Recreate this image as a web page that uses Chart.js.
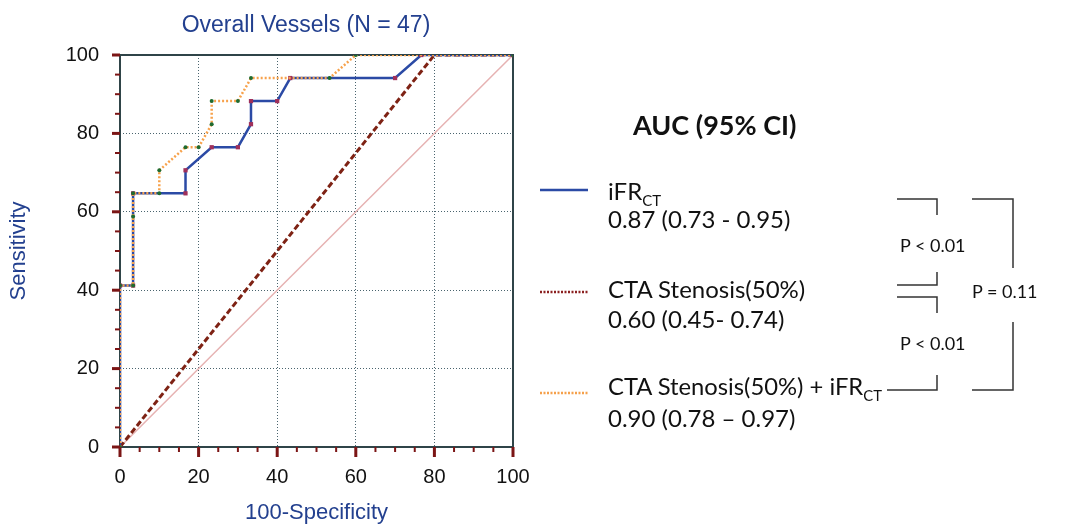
<!DOCTYPE html>
<html>
<head>
<meta charset="utf-8">
<script src="https://cdn.jsdelivr.net/npm/chart.js@4.4.0/dist/chart.umd.min.js"></script>
<style>
  body { margin: 0; background: #fff; }
  #wrap { position: relative; width: 1082px; height: 528px; }
  #roc { position: absolute; left: 0; top: 0; }
  #side { position: absolute; left: 0; top: 0; }
  #side text { font-family: Lato, "Open Sans", sans-serif; fill: #111; }
</style>
</head>
<body>
<div id="wrap">
  <canvas id="roc" width="1082" height="528"></canvas>
  <svg id="side" width="1082" height="528">
    <text x="306" y="32" text-anchor="middle" style="font-family:'Liberation Sans',Arial,sans-serif;font-size:23px;fill:#23408f">Overall Vessels (N = 47)</text>

    <text x="633" y="135" style="font-size:27px;font-weight:bold">AUC (95% CI)</text>

    <line x1="540" y1="190" x2="588" y2="190" stroke="#2b4aa5" stroke-width="2.5"/>
    <text x="608" y="200" style="font-size:24px">iFR<tspan dy="6" style="font-size:15px">CT</tspan></text>
    <text x="608" y="228" style="font-size:24px">0.87 (0.73 - 0.95)</text>

    <line x1="540" y1="292" x2="588" y2="292" stroke="#8b2020" stroke-width="2.5" stroke-dasharray="2,1.5"/>
    <text x="608" y="298" style="font-size:24px">CTA Stenosis(50%)</text>
    <text x="608" y="328" style="font-size:24px">0.60 (0.45- 0.74)</text>

    <line x1="540" y1="393" x2="588" y2="393" stroke="#f5a04a" stroke-width="2.5" stroke-dasharray="2,1.5"/>
    <text x="608" y="395" style="font-size:24px" textLength="274" lengthAdjust="spacingAndGlyphs">CTA Stenosis(50%) + iFR<tspan dy="6" style="font-size:15px">CT</tspan></text>
    <text x="608" y="427" style="font-size:24px">0.90 (0.78 – 0.97)</text>

    <g stroke="#333" stroke-width="1.5" fill="none">
      <polyline points="897,199 937,199 937,215"/>
      <polyline points="937,272 937,285 897,285"/>
      <polyline points="897,297 937,297 937,313"/>
      <polyline points="937,375 937,390 887,390"/>
      <polyline points="972,199 1013,199 1013,268"/>
      <polyline points="1013,322 1013,390 972,390"/>
    </g>
    <text x="900" y="252" style="font-size:18px">P &lt; 0.01</text>
    <text x="900" y="350" style="font-size:18px">P &lt; 0.01</text>
    <text x="972" y="298" style="font-size:18px">P = 0.11</text>
  </svg>
</div>
<script>
// ROC curves, x = 100-Specificity, y = Sensitivity
const fprIfr   = [0, 0, 3.33, 3.33, 16.67, 16.67, 23.33, 30, 33.33, 33.33, 40, 43.33, 70, 76.67, 100];
const sensIfr  = [0, 41.18, 41.18, 64.71, 64.71, 70.59, 76.47, 76.47, 82.35, 88.24, 88.24, 94.12, 94.12, 100, 100];

const fprCta   = [0, 80, 100];
const sensCta  = [0, 100, 100];

const fprCombo  = [0, 0, 3.33, 3.33, 3.33, 10, 10, 16.67, 20, 23.33, 23.33, 30, 33.33, 53.33, 60, 100];
const sensCombo = [0, 41.18, 41.18, 58.82, 64.71, 64.71, 70.59, 76.47, 76.47, 82.35, 88.24, 88.24, 94.12, 94.12, 100, 100];

const fprRef  = [0, 100];
const sensRef = [0, 100];

const axisTicks = [0, 20, 40, 60, 80, 100];

const pts = (xs, ys) => xs.map((x, i) => ({ x: x, y: ys[i] }));

// frame + minor/major tick marks
const framePlugin = {
  id: "frame",
  beforeDatasetsDraw(chart) {
    const a = chart.chartArea, c = chart.ctx;
    c.save();
    c.strokeStyle = "#2f4448";
    c.lineWidth = 2;
    c.strokeRect(a.left, a.top, a.right - a.left, a.bottom - a.top);
    c.restore();
  },
  afterDraw(chart) {
    const c = chart.ctx, xs = chart.scales.x, ys = chart.scales.y;
    const a = chart.chartArea;
    c.save();
    c.strokeStyle = "#7b1515";
    for (let v = 0; v <= 100; v += 5) {
      const major = v % 20 === 0;
      c.lineWidth = major ? 3 : 2;
      const px = xs.getPixelForValue(v);
      c.beginPath(); c.moveTo(px, a.bottom); c.lineTo(px, a.bottom + (major ? 10 : 5)); c.stroke();
      const py = ys.getPixelForValue(v);
      c.beginPath(); c.moveTo(a.left, py); c.lineTo(a.left - (major ? 8 : 5), py); c.stroke();
    }
    c.restore();
  }
};

const gridOpts = {
  color: "#4a646e",
  lineWidth: 1,
  drawTicks: false
};

new Chart(document.getElementById("roc"), {
  type: "scatter",
  data: {
    datasets: [
      {
        label: "CTA Stenosis(50%) + iFR CT",
        data: pts(fprCombo, sensCombo),
        showLine: true,
        borderColor: "#f7a24c",
        borderWidth: 2.5,
        borderDash: [2, 2],
        pointRadius: 2,
        pointBackgroundColor: "#1e6b30",
        pointBorderWidth: 0,
        order: 0
      },
      {
        label: "iFR CT",
        data: pts(fprIfr, sensIfr),
        showLine: true,
        borderColor: "#2b4aa5",
        borderWidth: 2.5,
        pointStyle: "rect",
        pointRadius: 3,
        pointBackgroundColor: "#a0305a",
        pointBorderWidth: 0,
        order: 1
      },
      {
        label: "CTA Stenosis(50%)",
        data: pts(fprCta, sensCta),
        showLine: true,
        borderColor: "#7e2214",
        borderWidth: 3,
        borderDash: [6, 3],
        pointRadius: 0,
        order: 2
      },
      {
        label: "reference",
        data: pts(fprRef, sensRef),
        showLine: true,
        borderColor: "#e6b2b2",
        borderWidth: 1.5,
        pointRadius: 0,
        order: 3
      }
    ]
  },
  options: {
    responsive: false,
    animation: false,
    layout: { padding: { top: 55, right: 569, left: 0, bottom: 0 } },
    plugins: {
      legend: { display: false },
      tooltip: { enabled: false },
      title: { display: false }
    },
    scales: {
      x: {
        type: "linear",
        min: 0, max: 100,
        afterFit: s => { s.height = 81; },
        afterBuildTicks: s => { s.ticks = axisTicks.map(v => ({ value: v })); },
        ticks: { font: { family: "Liberation Sans", size: 20 }, color: "#111", padding: 18 },
        grid: gridOpts,
        border: { display: false, dash: [1, 2] },
        title: {
          display: true, text: "100-Specificity", color: "#23408f",
          font: { family: "Liberation Sans", size: 22 }, padding: { top: 0, bottom: 2 }
        }
      },
      y: {
        type: "linear",
        min: 0, max: 100,
        afterFit: s => { s.width = 120; },
        afterBuildTicks: s => { s.ticks = axisTicks.map(v => ({ value: v })); },
        ticks: { font: { family: "Liberation Sans", size: 20 }, color: "#111", padding: 21 },
        grid: gridOpts,
        border: { display: false, dash: [1, 2] },
        title: {
          display: true, text: "Sensitivity", color: "#23408f",
          font: { family: "Liberation Sans", size: 22 }, padding: { top: 6, bottom: 0 }
        }
      }
    }
  },
  plugins: [framePlugin]
});
</script>
</body>
</html>
